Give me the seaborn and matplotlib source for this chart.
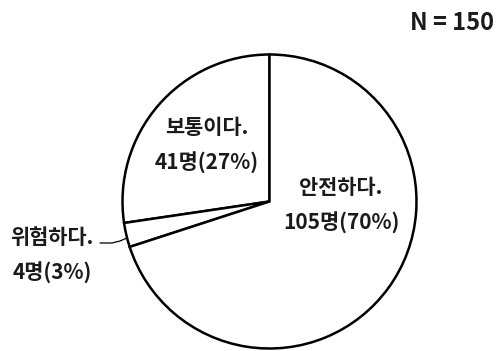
import matplotlib
matplotlib.use("Agg")
import matplotlib.pyplot as plt
import seaborn as sns
import pandas as pd

# Survey answers (counterclockwise from 12 o'clock)
labels = ["보통이다.", "위험하다.", "안전하다."]
counts = [41, 4, 105]
total_label = "N = 150"

df = pd.DataFrame({"label": labels, "count": counts})
total = df["count"].sum()
df["pct"] = (df["count"] / total * 100).round().astype(int)

sns.set_theme(style="white")
plt.rcParams["font.family"] = ["Noto Sans CJK KR", "DejaVu Sans"]

W, H = 501, 351
fig = plt.figure(figsize=(W / 100, H / 100), dpi=100)
ax = fig.add_axes([0, 0, 1, 1])

cx, cy, r = 269.5, H - 201.5, 147
wedges, _ = ax.pie(
    df["count"], startangle=90, counterclock=True,
    colors=["white"] * len(df), center=(cx, cy), radius=r,
    wedgeprops=dict(edgecolor="black", linewidth=1.8, joinstyle="miter"),
    frame=True,
)
ax.set_xlim(0, W)
ax.set_ylim(0, H)
ax.set_aspect("equal")
ax.axis("off")

fs = 15
# label positions (text centre) and line spacing in px
pos = {"보통이다.": (207, H - 128), "위험하다.": (52, H - 238), "안전하다.": (341, H - 188)}
gap = 35
for _, row in df.iterrows():
    x, y = pos[row["label"]]
    ax.text(x, y, row["label"], ha="center", va="center", fontsize=fs,
            fontweight="bold", color="#1a1a1a")
    ax.text(x, y - gap, f"{row['count']}명({row['pct']}%)", ha="center",
            va="center", fontsize=fs, fontweight="bold", color="#1a1a1a")

# leader line for the small slice
ax.plot([100, 112, 120, 127], [H - 243, H - 243, H - 241, H - 238],
        color="black", linewidth=0.9)

ax.text(452, H - 23, total_label, ha="center", va="center", fontsize=17,
        fontweight="bold", color="#1a1a1a")

fig.savefig("out.png", dpi=100, facecolor="white")
